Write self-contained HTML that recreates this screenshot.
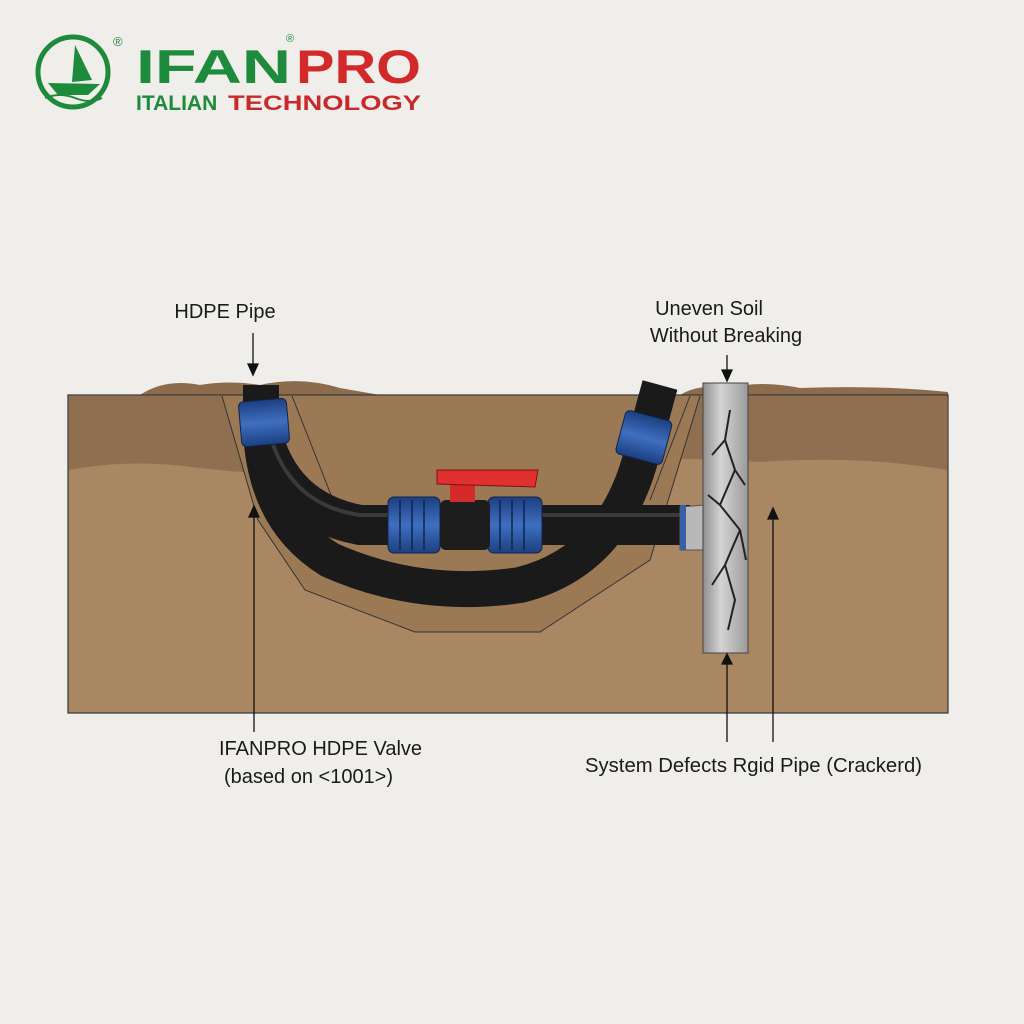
<!DOCTYPE html>
<html><head><meta charset="utf-8"><style>
html,body{margin:0;padding:0;background:#efeeea;}
svg{display:block}
text{font-family:"Liberation Sans",sans-serif;}
</style></head><body>
<svg width="1024" height="1024" viewBox="0 0 1024 1024" xmlns="http://www.w3.org/2000/svg">
<defs>
<linearGradient id="gp" x1="0" x2="1"><stop offset="0" stop-color="#8e8e8e"/><stop offset=".4" stop-color="#d4d4d4"/><stop offset="1" stop-color="#9a9a9a"/></linearGradient>
<linearGradient id="bl" x1="0" y1="0" x2="0" y2="1"><stop offset="0" stop-color="#1c3f80"/><stop offset=".5" stop-color="#3f6fc0"/><stop offset="1" stop-color="#1c3f80"/></linearGradient>
</defs>
<rect width="1024" height="1024" fill="#efeeea"/>
<!-- logo -->
<circle cx="73" cy="72" r="35" fill="none" stroke="#1e8a3c" stroke-width="5"/>
<path d="M75,45 L92,80 L72,82 Z" fill="#1e8a3c"/>
<path d="M48,83 L100,84 L88,95 L58,95 Z" fill="#1e8a3c"/>
<path d="M45,98 Q60,92 75,98 T102,98" stroke="#1e8a3c" stroke-width="2" fill="none"/>
<text x="113" y="46" font-size="13" fill="#1e8a3c">®</text>
<text x="136" y="83" font-size="47" font-weight="bold" fill="#1e8a3c" textLength="155" lengthAdjust="spacingAndGlyphs">IFAN</text>
<text x="286" y="42" font-size="11" fill="#1e8a3c">®</text>
<text x="296" y="83" font-size="47" font-weight="bold" fill="#d22a2a" textLength="125" lengthAdjust="spacingAndGlyphs">PRO</text>
<text x="136" y="110" font-size="21" font-weight="bold" fill="#1e8a3c">ITALIAN</text>
<text x="228" y="110" font-size="21" font-weight="bold" fill="#c62a2a" textLength="193" lengthAdjust="spacingAndGlyphs">TECHNOLOGY</text>
<!-- soil -->
<path d="M140,395 Q165,378 200,385 Q230,380 260,385 Q300,376 340,388 L380,395 Z" fill="#8c6c4c"/>
<path d="M680,395 Q700,383 730,388 Q760,380 800,388 Q880,385 948,392 L948,395 Z" fill="#8c6c4c"/>
<rect x="68" y="395" width="880" height="318" fill="#a88762" stroke="#333" stroke-width="1.2"/>
<path d="M69,396 L947,396 L947,470 Q860,455 760,462 Q640,455 560,462 Q480,450 400,468 Q300,480 200,468 Q130,458 69,470 Z" fill="#8f6f4f"/>
<path d="M222,396 L258,520 L305,590 L415,632 L540,632 L650,560 L700,396" fill="#9b7955" stroke="#333" stroke-width="1"/>
<path d="M292,396 L335,505 M690,396 L650,500" stroke="#333" stroke-width="1" fill="none"/>
<!-- black pipe loop -->
<path d="M261,385 L261,430 Q265,520 330,560 Q420,600 520,585 Q620,560 645,440 L660,385" fill="none" stroke="#1a1a1a" stroke-width="36"/>
<path d="M261,430 Q280,510 360,525 L690,525" fill="none" stroke="#1a1a1a" stroke-width="40"/>
<path d="M270,435 Q290,505 360,515 L690,515" fill="none" stroke="#3a3a3a" stroke-width="4"/>
<!-- couplings -->
<rect x="240" y="400" width="48" height="45" rx="5" fill="url(#bl)" stroke="#10244a" transform="rotate(-5 264 422)"/>
<rect x="620" y="415" width="48" height="45" rx="5" fill="url(#bl)" stroke="#10244a" transform="rotate(15 644 437)"/>
<rect x="388" y="497" width="52" height="56" rx="6" fill="url(#bl)" stroke="#10244a"/>
<rect x="488" y="497" width="54" height="56" rx="6" fill="url(#bl)" stroke="#10244a"/>
<g stroke="#10244a" stroke-width="1.5"><path d="M400,500V550M412,500V550M424,500V550M500,500V550M512,500V550M524,500V550"/></g>
<rect x="440" y="500" width="50" height="50" rx="6" fill="#1d1d1d"/>
<!-- handle -->
<rect x="450" y="478" width="25" height="24" fill="#d42a2a"/>
<path d="M437,470 L538,470 L535,487 L437,484 Z" fill="#e03030" stroke="#801010"/>
<!-- gray pipe -->
<path d="M680,507 L705,505 L712,528 L705,550 L680,550 Z" fill="#b8b8b8" stroke="#555"/>
<rect x="680" y="505" width="6" height="45" fill="#3a5fa8"/>
<rect x="703" y="383" width="45" height="270" fill="url(#gp)" stroke="#444"/>
<path d="M730,410 L725,440 L735,470 L720,505 L740,530 L725,565 L735,600 L728,630 M725,440 L712,455 M735,470 L745,485 M720,505 L708,495 M740,530 L746,560 M725,565 L712,585" stroke="#222" stroke-width="2" fill="none"/>
<!-- labels -->
<g font-size="20" fill="#1a1a1a">
<text x="225" y="318" text-anchor="middle">HDPE Pipe</text>
<text x="709" y="315" text-anchor="middle">Uneven Soil</text>
<text x="726" y="342" text-anchor="middle">Without Breaking</text>
<text x="219" y="755">IFANPRO HDPE Valve</text>
<text x="224" y="783">(based on &lt;1001&gt;)</text>
<text x="585" y="772" textLength="337" lengthAdjust="spacingAndGlyphs">System Defects Rgid Pipe (Crackerd)</text>
</g>
<g stroke="#111" stroke-width="1.3" fill="#111">
<line x1="253" y1="333" x2="253" y2="366"/><path d="M248,364 L258,364 L253,375 Z"/>
<line x1="727" y1="355" x2="727" y2="372"/><path d="M722,370 L732,370 L727,381 Z"/>
<line x1="254" y1="515" x2="254" y2="732"/><path d="M249,517 L259,517 L254,506 Z"/>
<line x1="727" y1="662" x2="727" y2="742"/><path d="M722,664 L732,664 L727,654 Z"/>
<line x1="773" y1="517" x2="773" y2="742"/><path d="M768,519 L778,519 L773,508 Z"/>
</g>
</svg>
</body></html>
